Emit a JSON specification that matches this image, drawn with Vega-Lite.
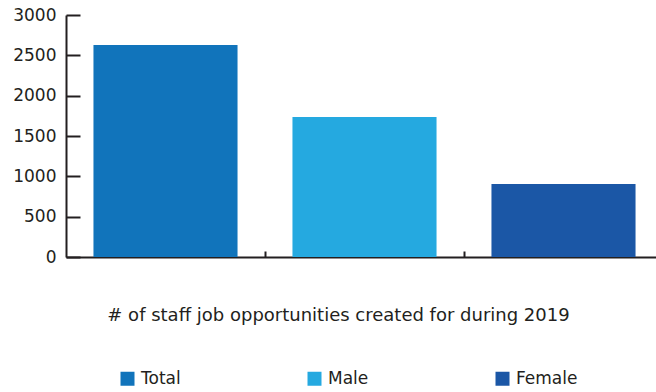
{
  "$schema": "https://vega.github.io/schema/vega-lite/v6.json",
  "width": 597,
  "height": 242,
  "autosize": "none",
  "padding": {"left": 66, "top": 15, "right": 0, "bottom": 135},
  "background": "white",
  "config": {
    "view": {"stroke": null},
    "font": "DejaVu Sans"
  },
  "data": {
    "values": [
      {"category": "Total", "value": 2628},
      {"category": "Male", "value": 1736},
      {"category": "Female", "value": 905}
    ]
  },
  "mark": {"type": "bar"},
  "encoding": {
    "x": {
      "field": "category",
      "type": "nominal",
      "sort": ["Total", "Male", "Female"],
      "scale": {"paddingInner": 0.276, "paddingOuter": 0.138},
      "axis": {
        "title": "# of staff job opportunities created for during 2019",
        "labels": false,
        "ticks": true,
        "tickOffset": 99.5,
        "tickSize": -6,
        "tickWidth": 2,
        "tickColor": "#231F20",
        "domainColor": "#231F20",
        "domainWidth": 2,
        "titleX": 272,
        "titleY": 63,
        "titleBaseline": "alphabetic",
        "titleFontSize": 18,
        "titleFontWeight": "normal",
        "titleColor": "#231F20"
      }
    },
    "y": {
      "field": "value",
      "type": "quantitative",
      "scale": {"domain": [0, 3000], "nice": false},
      "axis": {
        "title": null,
        "values": [0, 500, 1000, 1500, 2000, 2500, 3000],
        "format": "d",
        "grid": false,
        "tickSize": -14,
        "tickWidth": 2,
        "tickColor": "#231F20",
        "domainColor": "#231F20",
        "domainWidth": 2,
        "labelFontSize": 17,
        "labelColor": "#231F20",
        "labelPadding": 24
      }
    },
    "color": {
      "field": "category",
      "type": "nominal",
      "sort": ["Total", "Male", "Female"],
      "scale": {
        "domain": ["Total", "Male", "Female"],
        "range": ["#1174BB", "#25A9E0", "#1B57A6"]
      },
      "legend": {
        "title": null,
        "orient": "none",
        "direction": "horizontal",
        "legendX": 53,
        "legendY": 355,
        "symbolType": "square",
        "symbolSize": 196,
        "symbolStrokeWidth": 0,
        "symbolOpacity": 1,
        "labelFontSize": 17,
        "labelColor": "#231F20",
        "labelOffset": 5,
        "columnPadding": 125
      }
    }
  }
}
